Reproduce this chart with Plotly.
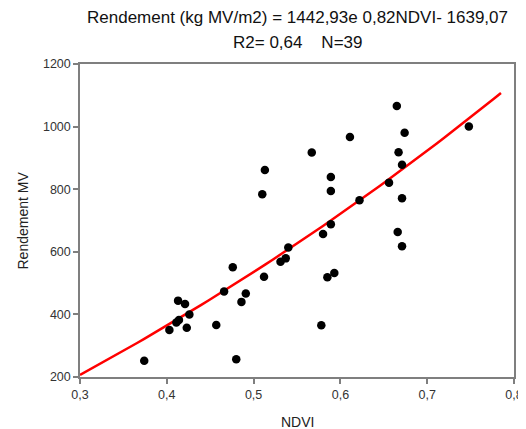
import numpy as np
import plotly.graph_objects as go

# NDVI vs fresh-matter yield
ndvi = [0.374, 0.403, 0.411, 0.414, 0.413, 0.421, 0.426, 0.423, 0.457, 0.466,
        0.476, 0.480, 0.486, 0.491, 0.512, 0.531, 0.537, 0.540, 0.510, 0.513,
        0.567, 0.580, 0.589, 0.585, 0.593, 0.589, 0.589, 0.611, 0.622, 0.656,
        0.665, 0.674, 0.667, 0.671, 0.671, 0.666, 0.671, 0.578, 0.748]
rendement = [252, 350, 374, 382, 444, 433, 400, 357, 366, 473,
             551, 257, 440, 467, 520, 568, 579, 614, 784, 861,
             917, 657, 688, 519, 532, 839, 794, 967, 765, 821,
             1066, 980, 918, 878, 771, 663, 618, 365, 1000]

# fitted model from the title: a * exp(b * NDVI) + c
a, b, c = 1442.93, 0.82, -1639.07
fit_x = np.linspace(0.3, 0.785, 60)
fit_y = a * np.exp(b * fit_x) + c

x_ticks = [0.3, 0.4, 0.5, 0.6, 0.7, 0.8]
y_ticks = [200, 400, 600, 800, 1000, 1200]

fig = go.Figure()
fig.add_trace(go.Scatter(x=fit_x, y=fit_y, mode="lines",
                         line=dict(color="#ff0000", width=2.5), hoverinfo="skip"))
fig.add_trace(go.Scatter(x=ndvi, y=rendement, mode="markers",
                         marker=dict(color="black", size=8.5)))

axis_style = dict(showgrid=False, zeroline=False, showline=True, linecolor="#7f7f7f",
                  linewidth=1.5, mirror=True, ticks="outside", ticklen=5,
                  tickcolor="#7f7f7f", tickwidth=1.5, automargin=False,
                  tickfont=dict(size=12.5, color="#333333"))

fig.update_xaxes(range=[0.3, 0.8], tickvals=x_ticks, tickformat=".1f", **axis_style)
fig.update_yaxes(range=[200, 1200], tickvals=y_ticks, **axis_style)

# page has an 8px body margin, so the figure is sized to fit the window
fig.update_layout(
    width=518, height=421,
    margin=dict(l=72, r=12, t=56, b=52),
    separators=", ",
    showlegend=False,
    plot_bgcolor="white", paper_bgcolor="white",
    font=dict(family="Liberation Sans, Arial, sans-serif"),
)

title_lines = ["Rendement (kg MV/m2) = 1442,93e 0,82NDVI- 1639,07", "R2= 0,64    N=39"]
for i, line in enumerate(title_lines):
    fig.add_annotation(text=line, xref="paper", yref="paper", x=0.5, y=1.0,
                       yshift=47 - 25 * i, showarrow=False, yanchor="middle",
                       font=dict(size=17, color="#111111"))

fig.add_annotation(text="NDVI", xref="paper", yref="paper", x=0.5, y=0.0,
                   yshift=-45, yanchor="middle", showarrow=False,
                   font=dict(size=14, color="#222222"))
fig.add_annotation(text="Rendement MV", xref="paper", yref="paper", x=0.0, y=0.5,
                   xshift=-58, xanchor="center", textangle=-90, showarrow=False,
                   font=dict(size=14, color="#222222"))

fig.write_html("out.html")
